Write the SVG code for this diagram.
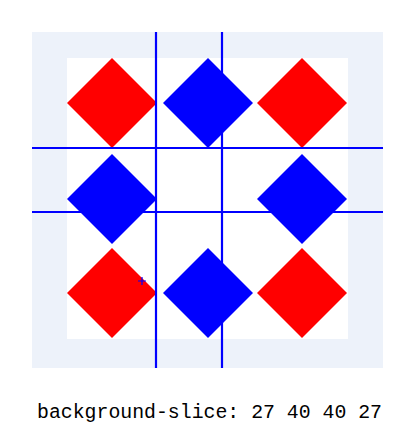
<svg xmlns="http://www.w3.org/2000/svg" width="418" height="447" viewBox="0 0 418 447">
<style>
.red{fill:#ff0000}
.blue{fill:#0000ff}
.line{stroke:#0000ff;stroke-width:2.2;fill:none}
.label{font-family:"Liberation Mono","DejaVu Sans Mono",monospace;font-size:20px;fill:#000}
</style>
<defs>
<path id="d" d="M0,-45 L45,0 L0,45 L-45,0 Z"/>
</defs>
<rect x="32" y="32" width="351" height="336" fill="#edf2fa"/>
<rect x="67" y="58" width="281" height="281" fill="#ffffff"/>
<g id="diamonds">
<use href="#d" class="red" x="112" y="103"/>
<use href="#d" class="blue" x="208" y="103"/>
<use href="#d" class="red" x="302" y="103"/>
<use href="#d" class="blue" x="112" y="199"/>
<use href="#d" class="blue" x="302" y="199"/>
<use href="#d" class="red" x="112" y="293"/>
<use href="#d" class="blue" x="208" y="293"/>
<use href="#d" class="red" x="302" y="293"/>
</g>
<g id="slice-lines">
<line class="line" x1="156" y1="32" x2="156" y2="368"/>
<line class="line" x1="222" y1="32" x2="222" y2="368"/>
<line class="line" x1="32" y1="148" x2="383" y2="148"/>
<line class="line" x1="32" y1="212" x2="383" y2="212"/>
</g>
<path d="M138,281 H146 M142,277 V285" stroke="#0000ff" stroke-width="1.2" fill="none"/>
<text class="label" x="37" y="418" textLength="345" lengthAdjust="spacingAndGlyphs">background-slice: 27 40 40 27</text>
</svg>
